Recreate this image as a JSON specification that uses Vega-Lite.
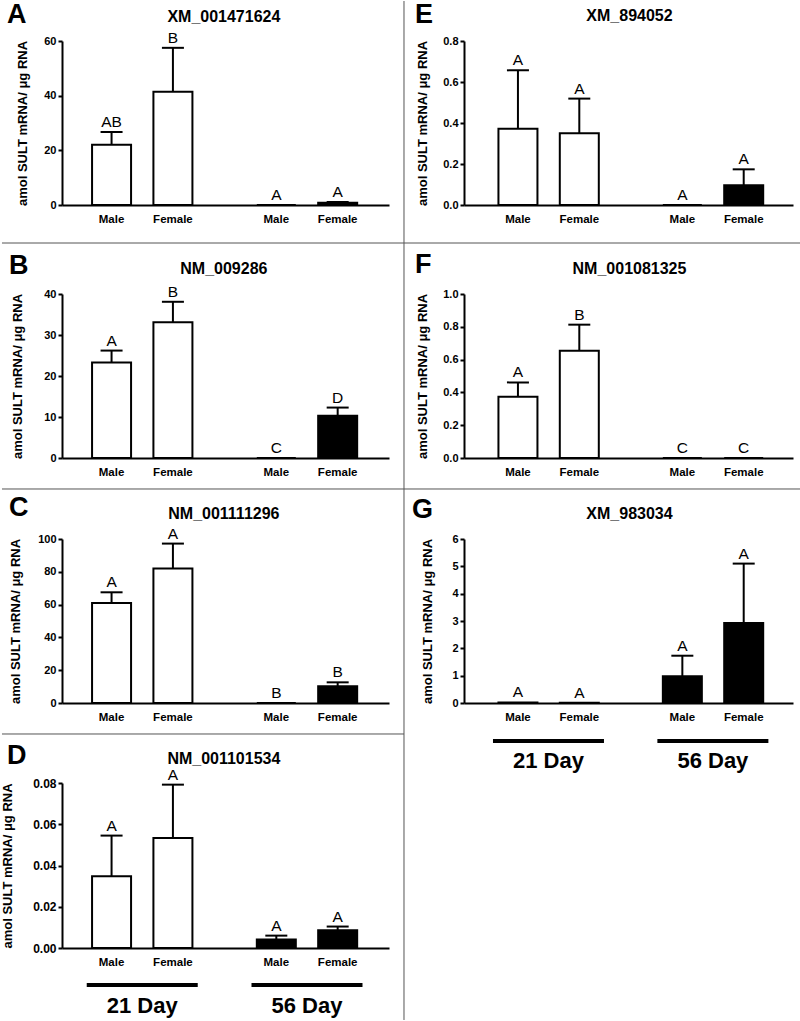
{
"$schema": "https://vega.github.io/schema/vega-lite/v6.json",
"padding": 0,
"autosize": {"type": "pad"},
"background": "white",
"config": {
  "font": "Liberation Sans",
  "view": {"stroke": null},
  "axis": {"grid": false, "domainColor": "black", "domainWidth": 2, "tickColor": "black", "tickWidth": 2, "tickSize": 4, "labelColor": "black", "labelFont": "Liberation Sans", "labelFontWeight": "bold", "labelFontSize": 11, "labelPadding": 2, "labelOverlap": false, "labelSeparation": -30, "titleFont": "Liberation Sans", "titleFontWeight": "bold", "titleFontSize": 13, "titleColor": "black"},
  "axisY": {"labelOverlap": false, "labelSeparation": -30},
  "text": {"font": "Liberation Sans", "color": "black"}
},
"datasets": {
  "bars": [
    {"panel": "A", "day": "21 Day", "sex": "Male", "mean": 22.0, "hi": 26.7, "ltr": "AB"},
    {"panel": "A", "day": "21 Day", "sex": "Female", "mean": 41.4, "hi": 57.5, "ltr": "B"},
    {"panel": "A", "day": "56 Day", "sex": "Male", "mean": 0, "hi": 0, "ltr": "A"},
    {"panel": "A", "day": "56 Day", "sex": "Female", "mean": 0.8, "hi": 1.1, "ltr": "A"},
    {"panel": "B", "day": "21 Day", "sex": "Male", "mean": 23.3, "hi": 26.2, "ltr": "A"},
    {"panel": "B", "day": "21 Day", "sex": "Female", "mean": 33.1, "hi": 38.1, "ltr": "B"},
    {"panel": "B", "day": "56 Day", "sex": "Male", "mean": 0, "hi": 0, "ltr": "C"},
    {"panel": "B", "day": "56 Day", "sex": "Female", "mean": 10.3, "hi": 12.3, "ltr": "D"},
    {"panel": "C", "day": "21 Day", "sex": "Male", "mean": 61.0, "hi": 67.5, "ltr": "A"},
    {"panel": "C", "day": "21 Day", "sex": "Female", "mean": 82.0, "hi": 97.2, "ltr": "A"},
    {"panel": "C", "day": "56 Day", "sex": "Male", "mean": 0, "hi": 0, "ltr": "B"},
    {"panel": "C", "day": "56 Day", "sex": "Female", "mean": 10.2, "hi": 12.6, "ltr": "B"},
    {"panel": "D", "day": "21 Day", "sex": "Male", "mean": 0.0348, "hi": 0.0545, "ltr": "A"},
    {"panel": "D", "day": "21 Day", "sex": "Female", "mean": 0.0533, "hi": 0.0792, "ltr": "A"},
    {"panel": "D", "day": "56 Day", "sex": "Male", "mean": 0.0041, "hi": 0.0060, "ltr": "A"},
    {"panel": "D", "day": "56 Day", "sex": "Female", "mean": 0.0086, "hi": 0.0104, "ltr": "A"},
    {"panel": "E", "day": "21 Day", "sex": "Male", "mean": 0.372, "hi": 0.657, "ltr": "A"},
    {"panel": "E", "day": "21 Day", "sex": "Female", "mean": 0.350, "hi": 0.519, "ltr": "A"},
    {"panel": "E", "day": "56 Day", "sex": "Male", "mean": 0, "hi": 0, "ltr": "A"},
    {"panel": "E", "day": "56 Day", "sex": "Female", "mean": 0.096, "hi": 0.174, "ltr": "A"},
    {"panel": "F", "day": "21 Day", "sex": "Male", "mean": 0.374, "hi": 0.461, "ltr": "A"},
    {"panel": "F", "day": "21 Day", "sex": "Female", "mean": 0.654, "hi": 0.813, "ltr": "B"},
    {"panel": "F", "day": "56 Day", "sex": "Male", "mean": 0, "hi": 0, "ltr": "C"},
    {"panel": "F", "day": "56 Day", "sex": "Female", "mean": 0, "hi": 0, "ltr": "C"},
    {"panel": "G", "day": "21 Day", "sex": "Male", "mean": 0.02, "hi": 0.02, "ltr": "A"},
    {"panel": "G", "day": "21 Day", "sex": "Female", "mean": 0.005, "hi": 0.005, "ltr": "A"},
    {"panel": "G", "day": "56 Day", "sex": "Male", "mean": 0.977, "hi": 1.73, "ltr": "A"},
    {"panel": "G", "day": "56 Day", "sex": "Female", "mean": 2.93, "hi": 5.10, "ltr": "A"}
  ]
},
"spacing": -2,
"hconcat": [
{
"spacing": -2,
"vconcat": [
{
"width": 327, "height": 164,
"resolve": {"scale": {"x": "independent", "y": "independent"}},
"layer": [
{
"data": {"name": "bars"},
"transform": [{"filter": "datum.panel == 'A'"}],
"encoding": {"x": {"field": "day", "type": "nominal", "scale": {"domain": ["21 Day", "56 Day"], "paddingInner": 0.2, "paddingOuter": 0.0924, "align": 0.471}, "axis": {"labels": false, "ticks": false, "title": null}}},
"layer": [
{"mark": {"type": "bar", "stroke": "black", "strokeWidth": 2},
 "encoding": {"xOffset": {"field": "sex", "type": "nominal", "scale": {"domain": ["Male", "Female"], "paddingInner": 0.3643, "paddingOuter": 0.2562}},
  "y": {"field": "mean", "type": "quantitative", "title": "amol SULT mRNA/ μg RNA", "scale": {"domain": [0, 60], "nice": false}, "axis": {"values": [0, 20, 40, 60], "titleX": -33, "labelOverlap": false, "labelFontSize": 11}},
  "fill": {"field": "day", "type": "nominal", "scale": {"domain": ["21 Day", "56 Day"], "range": ["white", "black"]}, "legend": null}}},
{"transform": [{"filter": "datum.hi > datum.mean"}], "mark": {"type": "rule", "color": "black", "strokeWidth": 2},
 "encoding": {"xOffset": {"field": "sex", "type": "nominal"}, "y": {"field": "mean", "type": "quantitative", "title": "amol SULT mRNA/ μg RNA", "axis": {"values": [0, 20, 40, 60], "titleX": -33, "labelOverlap": false, "labelFontSize": 11}}, "y2": {"field": "hi"}}},
{"transform": [{"filter": "datum.hi > datum.mean"}], "mark": {"type": "tick", "orient": "horizontal", "color": "black", "size": 22, "thickness": 2, "opacity": 1},
 "encoding": {"xOffset": {"field": "sex", "type": "nominal"}, "y": {"field": "hi", "type": "quantitative", "title": "amol SULT mRNA/ μg RNA", "axis": {"values": [0, 20, 40, 60], "titleX": -33, "labelOverlap": false, "labelFontSize": 11}}}},
{"mark": {"type": "text", "fontSize": 15.5, "dy": -5, "baseline": "alphabetic"},
 "encoding": {"xOffset": {"field": "sex", "type": "nominal"}, "y": {"field": "hi", "type": "quantitative", "title": "amol SULT mRNA/ μg RNA", "axis": {"values": [0, 20, 40, 60], "titleX": -33, "labelOverlap": false, "labelFontSize": 11}}, "text": {"field": "ltr"}}},
{"mark": {"type": "text", "fontSize": 11.5, "fontWeight": "bold", "dy": 17.5, "baseline": "alphabetic"},
 "encoding": {"xOffset": {"field": "sex", "type": "nominal"}, "y": {"datum": 0, "type": "quantitative", "title": "amol SULT mRNA/ μg RNA", "axis": {"values": [0, 20, 40, 60], "titleX": -33, "labelOverlap": false, "labelFontSize": 11}}, "text": {"field": "sex"}}}
]
},
{
"data": {"values": [{}]},
"layer": [
{"mark": {"type": "rule", "color": "#555", "strokeWidth": 1, "clip": false},
 "encoding": {"x": {"datum": 1.04587, "type": "quantitative", "scale": {"domain": [0, 1], "nice": false, "zero": false}, "axis": null}, "y": {"datum": 1.2439, "type": "quantitative", "scale": {"domain": [0, 1], "nice": false, "zero": false}, "axis": null}, "y2": {"datum": -0.23171}}},
{"mark": {"type": "rule", "color": "#555", "strokeWidth": 1, "clip": false},
 "encoding": {"x": {"datum": -0.18349, "type": "quantitative"}, "x2": {"datum": 1.04587}, "y": {"datum": -0.23171, "type": "quantitative"}}},
{"mark": {"type": "text", "fontSize": 27, "fontWeight": "bold", "align": "left", "baseline": "alphabetic", "clip": false},
 "encoding": {"x": {"datum": -0.1682, "type": "quantitative"}, "y": {"datum": 1.10976, "type": "quantitative"}, "text": {"value": "A"}}},
{"mark": {"type": "text", "fontSize": 16, "fontWeight": "bold", "align": "center", "baseline": "alphabetic", "clip": false},
 "encoding": {"x": {"datum": 0.495, "type": "quantitative"}, "y": {"datum": 1.1177, "type": "quantitative"}, "text": {"value": "XM_001471624"}}}
]
}
]
},
{
"width": 327, "height": 164,
"resolve": {"scale": {"x": "independent", "y": "independent"}},
"layer": [
{
"data": {"name": "bars"},
"transform": [{"filter": "datum.panel == 'B'"}],
"encoding": {"x": {"field": "day", "type": "nominal", "scale": {"domain": ["21 Day", "56 Day"], "paddingInner": 0.2, "paddingOuter": 0.0924, "align": 0.471}, "axis": {"labels": false, "ticks": false, "title": null}}},
"layer": [
{"mark": {"type": "bar", "stroke": "black", "strokeWidth": 2},
 "encoding": {"xOffset": {"field": "sex", "type": "nominal", "scale": {"domain": ["Male", "Female"], "paddingInner": 0.3643, "paddingOuter": 0.2562}},
  "y": {"field": "mean", "type": "quantitative", "title": "amol SULT mRNA/ μg RNA", "scale": {"domain": [0, 40], "nice": false}, "axis": {"values": [0, 10, 20, 30, 40], "titleX": -38, "labelOverlap": false, "labelFontSize": 11}},
  "fill": {"field": "day", "type": "nominal", "scale": {"domain": ["21 Day", "56 Day"], "range": ["white", "black"]}, "legend": null}}},
{"transform": [{"filter": "datum.hi > datum.mean"}], "mark": {"type": "rule", "color": "black", "strokeWidth": 2},
 "encoding": {"xOffset": {"field": "sex", "type": "nominal"}, "y": {"field": "mean", "type": "quantitative", "title": "amol SULT mRNA/ μg RNA", "axis": {"values": [0, 10, 20, 30, 40], "titleX": -38, "labelOverlap": false, "labelFontSize": 11}}, "y2": {"field": "hi"}}},
{"transform": [{"filter": "datum.hi > datum.mean"}], "mark": {"type": "tick", "orient": "horizontal", "color": "black", "size": 22, "thickness": 2, "opacity": 1},
 "encoding": {"xOffset": {"field": "sex", "type": "nominal"}, "y": {"field": "hi", "type": "quantitative", "title": "amol SULT mRNA/ μg RNA", "axis": {"values": [0, 10, 20, 30, 40], "titleX": -38, "labelOverlap": false, "labelFontSize": 11}}}},
{"mark": {"type": "text", "fontSize": 15.5, "dy": -5, "baseline": "alphabetic"},
 "encoding": {"xOffset": {"field": "sex", "type": "nominal"}, "y": {"field": "hi", "type": "quantitative", "title": "amol SULT mRNA/ μg RNA", "axis": {"values": [0, 10, 20, 30, 40], "titleX": -38, "labelOverlap": false, "labelFontSize": 11}}, "text": {"field": "ltr"}}},
{"mark": {"type": "text", "fontSize": 11.5, "fontWeight": "bold", "dy": 17.5, "baseline": "alphabetic"},
 "encoding": {"xOffset": {"field": "sex", "type": "nominal"}, "y": {"datum": 0, "type": "quantitative", "title": "amol SULT mRNA/ μg RNA", "axis": {"values": [0, 10, 20, 30, 40], "titleX": -38, "labelOverlap": false, "labelFontSize": 11}}, "text": {"field": "sex"}}}
]
},
{
"data": {"values": [{}]},
"layer": [
{"mark": {"type": "rule", "color": "#555", "strokeWidth": 1, "clip": false},
 "encoding": {"x": {"datum": 1.04587, "type": "quantitative", "scale": {"domain": [0, 1], "nice": false, "zero": false}, "axis": null}, "y": {"datum": 1.31098, "type": "quantitative", "scale": {"domain": [0, 1], "nice": false, "zero": false}, "axis": null}, "y2": {"datum": -0.18902}}},
{"mark": {"type": "rule", "color": "#555", "strokeWidth": 1, "clip": false},
 "encoding": {"x": {"datum": -0.18349, "type": "quantitative"}, "x2": {"datum": 1.04587}, "y": {"datum": -0.18902, "type": "quantitative"}}},
{"mark": {"type": "text", "fontSize": 27, "fontWeight": "bold", "align": "left", "baseline": "alphabetic", "clip": false},
 "encoding": {"x": {"datum": -0.162, "type": "quantitative"}, "y": {"datum": 1.12195, "type": "quantitative"}, "text": {"value": "B"}}},
{"mark": {"type": "text", "fontSize": 16, "fontWeight": "bold", "align": "center", "baseline": "alphabetic", "clip": false},
 "encoding": {"x": {"datum": 0.495, "type": "quantitative"}, "y": {"datum": 1.1201, "type": "quantitative"}, "text": {"value": "NM_009286"}}}
]
}
]
},
{
"width": 327, "height": 164,
"resolve": {"scale": {"x": "independent", "y": "independent"}},
"layer": [
{
"data": {"name": "bars"},
"transform": [{"filter": "datum.panel == 'C'"}],
"encoding": {"x": {"field": "day", "type": "nominal", "scale": {"domain": ["21 Day", "56 Day"], "paddingInner": 0.2, "paddingOuter": 0.0924, "align": 0.471}, "axis": {"labels": false, "ticks": false, "title": null}}},
"layer": [
{"mark": {"type": "bar", "stroke": "black", "strokeWidth": 2},
 "encoding": {"xOffset": {"field": "sex", "type": "nominal", "scale": {"domain": ["Male", "Female"], "paddingInner": 0.3643, "paddingOuter": 0.2562}},
  "y": {"field": "mean", "type": "quantitative", "title": "amol SULT mRNA/ μg RNA", "scale": {"domain": [0, 100], "nice": false}, "axis": {"values": [0, 20, 40, 60, 80, 100], "titleX": -40, "labelOverlap": false, "labelFontSize": 11}},
  "fill": {"field": "day", "type": "nominal", "scale": {"domain": ["21 Day", "56 Day"], "range": ["white", "black"]}, "legend": null}}},
{"transform": [{"filter": "datum.hi > datum.mean"}], "mark": {"type": "rule", "color": "black", "strokeWidth": 2},
 "encoding": {"xOffset": {"field": "sex", "type": "nominal"}, "y": {"field": "mean", "type": "quantitative", "title": "amol SULT mRNA/ μg RNA", "axis": {"values": [0, 20, 40, 60, 80, 100], "titleX": -40, "labelOverlap": false, "labelFontSize": 11}}, "y2": {"field": "hi"}}},
{"transform": [{"filter": "datum.hi > datum.mean"}], "mark": {"type": "tick", "orient": "horizontal", "color": "black", "size": 22, "thickness": 2, "opacity": 1},
 "encoding": {"xOffset": {"field": "sex", "type": "nominal"}, "y": {"field": "hi", "type": "quantitative", "title": "amol SULT mRNA/ μg RNA", "axis": {"values": [0, 20, 40, 60, 80, 100], "titleX": -40, "labelOverlap": false, "labelFontSize": 11}}}},
{"mark": {"type": "text", "fontSize": 15.5, "dy": -5, "baseline": "alphabetic"},
 "encoding": {"xOffset": {"field": "sex", "type": "nominal"}, "y": {"field": "hi", "type": "quantitative", "title": "amol SULT mRNA/ μg RNA", "axis": {"values": [0, 20, 40, 60, 80, 100], "titleX": -40, "labelOverlap": false, "labelFontSize": 11}}, "text": {"field": "ltr"}}},
{"mark": {"type": "text", "fontSize": 11.5, "fontWeight": "bold", "dy": 17.5, "baseline": "alphabetic"},
 "encoding": {"xOffset": {"field": "sex", "type": "nominal"}, "y": {"datum": 0, "type": "quantitative", "title": "amol SULT mRNA/ μg RNA", "axis": {"values": [0, 20, 40, 60, 80, 100], "titleX": -40, "labelOverlap": false, "labelFontSize": 11}}, "text": {"field": "sex"}}}
]
},
{
"data": {"values": [{}]},
"layer": [
{"mark": {"type": "rule", "color": "#555", "strokeWidth": 1, "clip": false},
 "encoding": {"x": {"datum": 1.04587, "type": "quantitative", "scale": {"domain": [0, 1], "nice": false, "zero": false}, "axis": null}, "y": {"datum": 1.30488, "type": "quantitative", "scale": {"domain": [0, 1], "nice": false, "zero": false}, "axis": null}, "y2": {"datum": -0.18902}}},
{"mark": {"type": "rule", "color": "#555", "strokeWidth": 1, "clip": false},
 "encoding": {"x": {"datum": -0.18349, "type": "quantitative"}, "x2": {"datum": 1.04587}, "y": {"datum": -0.18902, "type": "quantitative"}}},
{"mark": {"type": "text", "fontSize": 27, "fontWeight": "bold", "align": "left", "baseline": "alphabetic", "clip": false},
 "encoding": {"x": {"datum": -0.162, "type": "quantitative"}, "y": {"datum": 1.14024, "type": "quantitative"}, "text": {"value": "C"}}},
{"mark": {"type": "text", "fontSize": 16, "fontWeight": "bold", "align": "center", "baseline": "alphabetic", "clip": false},
 "encoding": {"x": {"datum": 0.495, "type": "quantitative"}, "y": {"datum": 1.12195, "type": "quantitative"}, "text": {"value": "NM_001111296"}}}
]
}
]
},
{
"width": 327, "height": 165,
"resolve": {"scale": {"x": "independent", "y": "independent"}},
"layer": [
{
"data": {"name": "bars"},
"transform": [{"filter": "datum.panel == 'D'"}],
"encoding": {"x": {"field": "day", "type": "nominal", "scale": {"domain": ["21 Day", "56 Day"], "paddingInner": 0.2, "paddingOuter": 0.0924, "align": 0.471}, "axis": {"labels": true, "ticks": false, "tickSize": 0, "title": null, "labelAngle": 0, "labelFontSize": 22, "labelPadding": 47}}},
"layer": [
{"mark": {"type": "bar", "stroke": "black", "strokeWidth": 2},
 "encoding": {"xOffset": {"field": "sex", "type": "nominal", "scale": {"domain": ["Male", "Female"], "paddingInner": 0.3643, "paddingOuter": 0.2562}},
  "y": {"field": "mean", "type": "quantitative", "title": "amol SULT mRNA/ μg RNA", "scale": {"domain": [0, 0.08], "nice": false}, "axis": {"values": [0, 0.02, 0.04, 0.06, 0.08], "format": ".2f", "titleX": -48, "labelOverlap": false, "labelFontSize": 12}},
  "fill": {"field": "day", "type": "nominal", "scale": {"domain": ["21 Day", "56 Day"], "range": ["white", "black"]}, "legend": null}}},
{"transform": [{"filter": "datum.hi > datum.mean"}], "mark": {"type": "rule", "color": "black", "strokeWidth": 2},
 "encoding": {"xOffset": {"field": "sex", "type": "nominal"}, "y": {"field": "mean", "type": "quantitative", "title": "amol SULT mRNA/ μg RNA", "axis": {"values": [0, 0.02, 0.04, 0.06, 0.08], "format": ".2f", "titleX": -48, "labelOverlap": false, "labelFontSize": 12}}, "y2": {"field": "hi"}}},
{"transform": [{"filter": "datum.hi > datum.mean"}], "mark": {"type": "tick", "orient": "horizontal", "color": "black", "size": 22, "thickness": 2, "opacity": 1},
 "encoding": {"xOffset": {"field": "sex", "type": "nominal"}, "y": {"field": "hi", "type": "quantitative", "title": "amol SULT mRNA/ μg RNA", "axis": {"values": [0, 0.02, 0.04, 0.06, 0.08], "format": ".2f", "titleX": -48, "labelOverlap": false, "labelFontSize": 12}}}},
{"mark": {"type": "text", "fontSize": 15.5, "dy": -5, "baseline": "alphabetic"},
 "encoding": {"xOffset": {"field": "sex", "type": "nominal"}, "y": {"field": "hi", "type": "quantitative", "title": "amol SULT mRNA/ μg RNA", "axis": {"values": [0, 0.02, 0.04, 0.06, 0.08], "format": ".2f", "titleX": -48, "labelOverlap": false, "labelFontSize": 12}}, "text": {"field": "ltr"}}},
{"mark": {"type": "text", "fontSize": 11.5, "fontWeight": "bold", "dy": 17.5, "baseline": "alphabetic"},
 "encoding": {"xOffset": {"field": "sex", "type": "nominal"}, "y": {"datum": 0, "type": "quantitative", "title": "amol SULT mRNA/ μg RNA", "axis": {"values": [0, 0.02, 0.04, 0.06, 0.08], "format": ".2f", "titleX": -48, "labelOverlap": false, "labelFontSize": 12}}, "text": {"field": "sex"}}},
{"transform": [{"filter": "datum.sex == 'Male'"}], "mark": {"type": "tick", "orient": "horizontal", "color": "black", "size": 111, "thickness": 4, "yOffset": 37, "opacity": 1},
 "encoding": {"y": {"datum": 0, "type": "quantitative", "title": "amol SULT mRNA/ μg RNA", "axis": {"values": [0, 0.02, 0.04, 0.06, 0.08], "format": ".2f", "titleX": -48, "labelOverlap": false, "labelFontSize": 12}}}}
]
},
{
"data": {"values": [{}]},
"layer": [
{"mark": {"type": "rule", "color": "#555", "strokeWidth": 1, "clip": false},
 "encoding": {"x": {"datum": 1.04587, "type": "quantitative", "scale": {"domain": [0, 1], "nice": false, "zero": false}, "axis": null}, "y": {"datum": 1.29697, "type": "quantitative", "scale": {"domain": [0, 1], "nice": false, "zero": false}, "axis": null}, "y2": {"datum": -0.43636}}},
{"mark": {"type": "text", "fontSize": 27, "fontWeight": "bold", "align": "left", "baseline": "alphabetic", "clip": false},
 "encoding": {"x": {"datum": -0.1682, "type": "quantitative"}, "y": {"datum": 1.11515, "type": "quantitative"}, "text": {"value": "D"}}},
{"mark": {"type": "text", "fontSize": 16, "fontWeight": "bold", "align": "center", "baseline": "alphabetic", "clip": false},
 "encoding": {"x": {"datum": 0.495, "type": "quantitative"}, "y": {"datum": 1.11515, "type": "quantitative"}, "text": {"value": "NM_001101534"}}}
]
}
]
}
]
},
{
"spacing": -2,
"vconcat": [
{
"width": 329, "height": 164,
"resolve": {"scale": {"x": "independent", "y": "independent"}},
"layer": [
{
"data": {"name": "bars"},
"transform": [{"filter": "datum.panel == 'E'"}],
"encoding": {"x": {"field": "day", "type": "nominal", "scale": {"domain": ["21 Day", "56 Day"], "paddingInner": 0.2, "paddingOuter": 0.1006, "align": 0.566}, "axis": {"labels": false, "ticks": false, "title": null}}},
"layer": [
{"mark": {"type": "bar", "stroke": "black", "strokeWidth": 2},
 "encoding": {"xOffset": {"field": "sex", "type": "nominal", "scale": {"domain": ["Male", "Female"], "paddingInner": 0.3694, "paddingOuter": 0.2477}},
  "y": {"field": "mean", "type": "quantitative", "title": "amol SULT mRNA/ μg RNA", "scale": {"domain": [0, 0.8], "nice": false}, "axis": {"values": [0, 0.2, 0.4, 0.6, 0.8], "format": ".1f", "titleX": -35, "labelOverlap": false, "labelFontSize": 11}},
  "fill": {"field": "day", "type": "nominal", "scale": {"domain": ["21 Day", "56 Day"], "range": ["white", "black"]}, "legend": null}}},
{"transform": [{"filter": "datum.hi > datum.mean"}], "mark": {"type": "rule", "color": "black", "strokeWidth": 2},
 "encoding": {"xOffset": {"field": "sex", "type": "nominal"}, "y": {"field": "mean", "type": "quantitative", "title": "amol SULT mRNA/ μg RNA", "axis": {"values": [0, 0.2, 0.4, 0.6, 0.8], "format": ".1f", "titleX": -35, "labelOverlap": false, "labelFontSize": 11}}, "y2": {"field": "hi"}}},
{"transform": [{"filter": "datum.hi > datum.mean"}], "mark": {"type": "tick", "orient": "horizontal", "color": "black", "size": 22, "thickness": 2, "opacity": 1},
 "encoding": {"xOffset": {"field": "sex", "type": "nominal"}, "y": {"field": "hi", "type": "quantitative", "title": "amol SULT mRNA/ μg RNA", "axis": {"values": [0, 0.2, 0.4, 0.6, 0.8], "format": ".1f", "titleX": -35, "labelOverlap": false, "labelFontSize": 11}}}},
{"mark": {"type": "text", "fontSize": 15.5, "dy": -5, "baseline": "alphabetic"},
 "encoding": {"xOffset": {"field": "sex", "type": "nominal"}, "y": {"field": "hi", "type": "quantitative", "title": "amol SULT mRNA/ μg RNA", "axis": {"values": [0, 0.2, 0.4, 0.6, 0.8], "format": ".1f", "titleX": -35, "labelOverlap": false, "labelFontSize": 11}}, "text": {"field": "ltr"}}},
{"mark": {"type": "text", "fontSize": 11.5, "fontWeight": "bold", "dy": 17.5, "baseline": "alphabetic"},
 "encoding": {"xOffset": {"field": "sex", "type": "nominal"}, "y": {"datum": 0, "type": "quantitative", "title": "amol SULT mRNA/ μg RNA", "axis": {"values": [0, 0.2, 0.4, 0.6, 0.8], "format": ".1f", "titleX": -35, "labelOverlap": false, "labelFontSize": 11}}, "text": {"field": "sex"}}}
]
},
{
"data": {"values": [{}]},
"layer": [
{"mark": {"type": "rule", "color": "#555", "strokeWidth": 1, "strokeOpacity": 0, "clip": false},
 "encoding": {"x": {"datum": -0.18237, "type": "quantitative", "scale": {"domain": [0, 1], "nice": false, "zero": false}, "axis": null}, "y": {"datum": 1.2439, "type": "quantitative", "scale": {"domain": [0, 1], "nice": false, "zero": false}, "axis": null}, "y2": {"datum": -0.23171}}},
{"mark": {"type": "rule", "color": "#555", "strokeWidth": 1, "clip": false},
 "encoding": {"x": {"datum": -0.18237, "type": "quantitative"}, "x2": {"datum": 1.02432}, "y": {"datum": -0.23171, "type": "quantitative"}}},
{"mark": {"type": "text", "fontSize": 27, "fontWeight": "bold", "align": "left", "baseline": "alphabetic", "clip": false},
 "encoding": {"x": {"datum": -0.1489, "type": "quantitative"}, "y": {"datum": 1.10976, "type": "quantitative"}, "text": {"value": "E"}}},
{"mark": {"type": "text", "fontSize": 16, "fontWeight": "bold", "align": "center", "baseline": "alphabetic", "clip": false},
 "encoding": {"x": {"datum": 0.503, "type": "quantitative"}, "y": {"datum": 1.12195, "type": "quantitative"}, "text": {"value": "XM_894052"}}}
]
}
]
},
{
"width": 329, "height": 164,
"resolve": {"scale": {"x": "independent", "y": "independent"}},
"layer": [
{
"data": {"name": "bars"},
"transform": [{"filter": "datum.panel == 'F'"}],
"encoding": {"x": {"field": "day", "type": "nominal", "scale": {"domain": ["21 Day", "56 Day"], "paddingInner": 0.2, "paddingOuter": 0.1006, "align": 0.566}, "axis": {"labels": false, "ticks": false, "title": null}}},
"layer": [
{"mark": {"type": "bar", "stroke": "black", "strokeWidth": 2},
 "encoding": {"xOffset": {"field": "sex", "type": "nominal", "scale": {"domain": ["Male", "Female"], "paddingInner": 0.3694, "paddingOuter": 0.2477}},
  "y": {"field": "mean", "type": "quantitative", "title": "amol SULT mRNA/ μg RNA", "scale": {"domain": [0, 1], "nice": false}, "axis": {"values": [0, 0.2, 0.4, 0.6, 0.8, 1.0], "format": ".1f", "titleX": -35, "labelOverlap": false, "labelFontSize": 11}},
  "fill": {"field": "day", "type": "nominal", "scale": {"domain": ["21 Day", "56 Day"], "range": ["white", "black"]}, "legend": null}}},
{"transform": [{"filter": "datum.hi > datum.mean"}], "mark": {"type": "rule", "color": "black", "strokeWidth": 2},
 "encoding": {"xOffset": {"field": "sex", "type": "nominal"}, "y": {"field": "mean", "type": "quantitative", "title": "amol SULT mRNA/ μg RNA", "axis": {"values": [0, 0.2, 0.4, 0.6, 0.8, 1.0], "format": ".1f", "titleX": -35, "labelOverlap": false, "labelFontSize": 11}}, "y2": {"field": "hi"}}},
{"transform": [{"filter": "datum.hi > datum.mean"}], "mark": {"type": "tick", "orient": "horizontal", "color": "black", "size": 22, "thickness": 2, "opacity": 1},
 "encoding": {"xOffset": {"field": "sex", "type": "nominal"}, "y": {"field": "hi", "type": "quantitative", "title": "amol SULT mRNA/ μg RNA", "axis": {"values": [0, 0.2, 0.4, 0.6, 0.8, 1.0], "format": ".1f", "titleX": -35, "labelOverlap": false, "labelFontSize": 11}}}},
{"mark": {"type": "text", "fontSize": 15.5, "dy": -5, "baseline": "alphabetic"},
 "encoding": {"xOffset": {"field": "sex", "type": "nominal"}, "y": {"field": "hi", "type": "quantitative", "title": "amol SULT mRNA/ μg RNA", "axis": {"values": [0, 0.2, 0.4, 0.6, 0.8, 1.0], "format": ".1f", "titleX": -35, "labelOverlap": false, "labelFontSize": 11}}, "text": {"field": "ltr"}}},
{"mark": {"type": "text", "fontSize": 11.5, "fontWeight": "bold", "dy": 17.5, "baseline": "alphabetic"},
 "encoding": {"xOffset": {"field": "sex", "type": "nominal"}, "y": {"datum": 0, "type": "quantitative", "title": "amol SULT mRNA/ μg RNA", "axis": {"values": [0, 0.2, 0.4, 0.6, 0.8, 1.0], "format": ".1f", "titleX": -35, "labelOverlap": false, "labelFontSize": 11}}, "text": {"field": "sex"}}}
]
},
{
"data": {"values": [{}]},
"layer": [
{"mark": {"type": "rule", "color": "#555", "strokeWidth": 1, "strokeOpacity": 0, "clip": false},
 "encoding": {"x": {"datum": -0.18237, "type": "quantitative", "scale": {"domain": [0, 1], "nice": false, "zero": false}, "axis": null}, "y": {"datum": 1.31098, "type": "quantitative", "scale": {"domain": [0, 1], "nice": false, "zero": false}, "axis": null}, "y2": {"datum": -0.18902}}},
{"mark": {"type": "rule", "color": "#555", "strokeWidth": 1, "clip": false},
 "encoding": {"x": {"datum": -0.18237, "type": "quantitative"}, "x2": {"datum": 1.02432}, "y": {"datum": -0.18902, "type": "quantitative"}}},
{"mark": {"type": "text", "fontSize": 27, "fontWeight": "bold", "align": "left", "baseline": "alphabetic", "clip": false},
 "encoding": {"x": {"datum": -0.1489, "type": "quantitative"}, "y": {"datum": 1.12805, "type": "quantitative"}, "text": {"value": "F"}}},
{"mark": {"type": "text", "fontSize": 16, "fontWeight": "bold", "align": "center", "baseline": "alphabetic", "clip": false},
 "encoding": {"x": {"datum": 0.503, "type": "quantitative"}, "y": {"datum": 1.12195, "type": "quantitative"}, "text": {"value": "NM_001081325"}}}
]
}
]
},
{
"width": 329, "height": 164,
"resolve": {"scale": {"x": "independent", "y": "independent"}},
"layer": [
{
"data": {"name": "bars"},
"transform": [{"filter": "datum.panel == 'G'"}],
"encoding": {"x": {"field": "day", "type": "nominal", "scale": {"domain": ["21 Day", "56 Day"], "paddingInner": 0.2, "paddingOuter": 0.1006, "align": 0.566}, "axis": {"labels": true, "ticks": false, "tickSize": 0, "title": null, "labelAngle": 0, "labelFontSize": 22, "labelPadding": 47}}},
"layer": [
{"mark": {"type": "bar", "stroke": "black", "strokeWidth": 2},
 "encoding": {"xOffset": {"field": "sex", "type": "nominal", "scale": {"domain": ["Male", "Female"], "paddingInner": 0.3694, "paddingOuter": 0.2477}},
  "y": {"field": "mean", "type": "quantitative", "title": "amol SULT mRNA/ μg RNA", "scale": {"domain": [0, 6], "nice": false}, "axis": {"values": [0, 1, 2, 3, 4, 5, 6], "titleX": -30, "labelOverlap": false, "labelFontSize": 11}},
  "fill": {"field": "day", "type": "nominal", "scale": {"domain": ["21 Day", "56 Day"], "range": ["white", "black"]}, "legend": null}}},
{"transform": [{"filter": "datum.hi > datum.mean"}], "mark": {"type": "rule", "color": "black", "strokeWidth": 2},
 "encoding": {"xOffset": {"field": "sex", "type": "nominal"}, "y": {"field": "mean", "type": "quantitative", "title": "amol SULT mRNA/ μg RNA", "axis": {"values": [0, 1, 2, 3, 4, 5, 6], "titleX": -30, "labelOverlap": false, "labelFontSize": 11}}, "y2": {"field": "hi"}}},
{"transform": [{"filter": "datum.hi > datum.mean"}], "mark": {"type": "tick", "orient": "horizontal", "color": "black", "size": 22, "thickness": 2, "opacity": 1},
 "encoding": {"xOffset": {"field": "sex", "type": "nominal"}, "y": {"field": "hi", "type": "quantitative", "title": "amol SULT mRNA/ μg RNA", "axis": {"values": [0, 1, 2, 3, 4, 5, 6], "titleX": -30, "labelOverlap": false, "labelFontSize": 11}}}},
{"mark": {"type": "text", "fontSize": 15.5, "dy": -5, "baseline": "alphabetic"},
 "encoding": {"xOffset": {"field": "sex", "type": "nominal"}, "y": {"field": "hi", "type": "quantitative", "title": "amol SULT mRNA/ μg RNA", "axis": {"values": [0, 1, 2, 3, 4, 5, 6], "titleX": -30, "labelOverlap": false, "labelFontSize": 11}}, "text": {"field": "ltr"}}},
{"mark": {"type": "text", "fontSize": 11.5, "fontWeight": "bold", "dy": 17.5, "baseline": "alphabetic"},
 "encoding": {"xOffset": {"field": "sex", "type": "nominal"}, "y": {"datum": 0, "type": "quantitative", "title": "amol SULT mRNA/ μg RNA", "axis": {"values": [0, 1, 2, 3, 4, 5, 6], "titleX": -30, "labelOverlap": false, "labelFontSize": 11}}, "text": {"field": "sex"}}},
{"transform": [{"filter": "datum.sex == 'Male'"}], "mark": {"type": "tick", "orient": "horizontal", "color": "black", "size": 111, "thickness": 4, "yOffset": 38, "opacity": 1},
 "encoding": {"y": {"datum": 0, "type": "quantitative", "title": "amol SULT mRNA/ μg RNA", "axis": {"values": [0, 1, 2, 3, 4, 5, 6], "titleX": -30, "labelOverlap": false, "labelFontSize": 11}}}}
]
},
{
"data": {"values": [{}]},
"layer": [
{"mark": {"type": "rule", "color": "#555", "strokeWidth": 1, "strokeOpacity": 0, "clip": false},
 "encoding": {"x": {"datum": -0.18237, "type": "quantitative", "scale": {"domain": [0, 1], "nice": false, "zero": false}, "axis": null}, "y": {"datum": 1.30488, "type": "quantitative", "scale": {"domain": [0, 1], "nice": false, "zero": false}, "axis": null}, "y2": {"datum": -1.93293}}},
{"mark": {"type": "text", "fontSize": 27, "fontWeight": "bold", "align": "left", "baseline": "alphabetic", "clip": false},
 "encoding": {"x": {"datum": -0.1581, "type": "quantitative"}, "y": {"datum": 1.12805, "type": "quantitative"}, "text": {"value": "G"}}},
{"mark": {"type": "text", "fontSize": 16, "fontWeight": "bold", "align": "center", "baseline": "alphabetic", "clip": false},
 "encoding": {"x": {"datum": 0.503, "type": "quantitative"}, "y": {"datum": 1.12195, "type": "quantitative"}, "text": {"value": "XM_983034"}}}
]
}
]
}
]
}
]
}
